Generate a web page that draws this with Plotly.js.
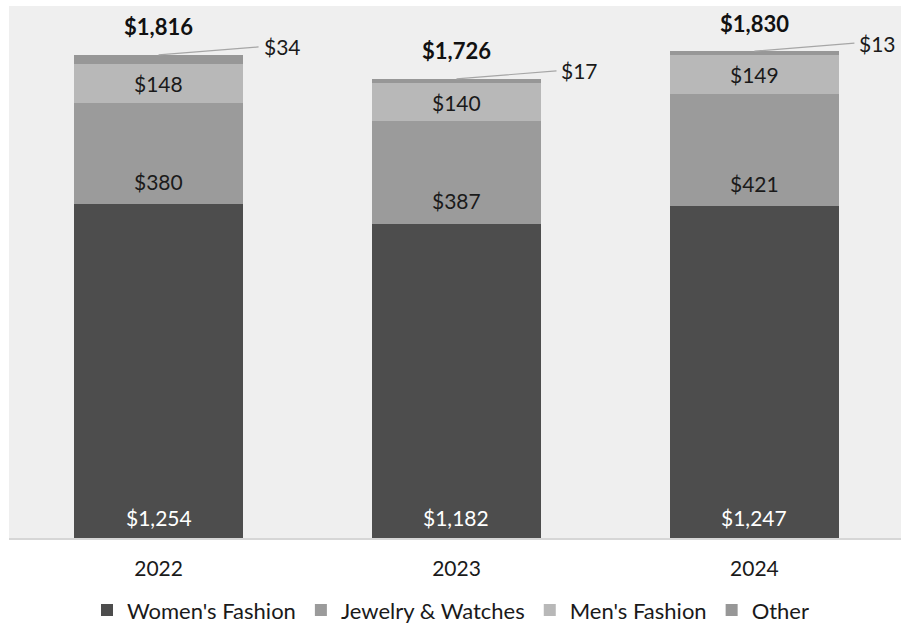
<!DOCTYPE html>
<html>
<head>
<meta charset="utf-8">
<script src="https://cdn.plot.ly/plotly-3.0.1.min.js"></script>
<style>html,body{margin:0;padding:0;background:#fff;}#chart{width:901px;height:624px;}</style>
</head>
<body>
<div id="chart"></div>
<script>
const years = ['2022', '2023', '2024'];
const womens = [1254, 1182, 1247];
const jewelry = [380, 387, 421];
const mens = [148, 140, 149];
const other = [34, 17, 13];
const totals = [1816, 1726, 1830];
const seriesNames = ["Women's Fashion", 'Jewelry & Watches', "Men's Fashion", 'Other'];

const FONT = 'Lato, "Open Sans", sans-serif';
const fmt = v => '$' + String(v).replace(/\B(?=(\d{3})+(?!\d))/g, ',');
const colors = ['#4d4d4d', '#9b9b9b', '#b8b8b8', '#979797'];
const series = [womens, jewelry, mens, other];

const traces = series.map((vals, i) => ({
  type: 'bar',
  name: seriesNames[i],
  x: years,
  y: vals,
  width: 0.57,
  marker: {color: colors[i], line: {width: 0}},
  hoverinfo: 'skip'
}));

const annotations = [];
years.forEach((yr, k) => {
  const base1 = womens[k];
  const base2 = womens[k] + jewelry[k];
  const top = base2 + mens[k] + other[k];
  annotations.push({xref: 'x', yref: 'y', x: k, y: 0, text: fmt(womens[k]), showarrow: false,
    yshift: 21, font: {family: FONT, size: 21, color: '#ffffff'}});
  annotations.push({xref: 'x', yref: 'y', x: k, y: base1, text: fmt(jewelry[k]), showarrow: false,
    yshift: 23, font: {family: FONT, size: 21, color: '#1a1a1a'}});
  annotations.push({xref: 'x', yref: 'y', x: k, y: base2 + mens[k] / 2, text: fmt(mens[k]), showarrow: false,
    font: {family: FONT, size: 21, color: '#1a1a1a'}});
  annotations.push({xref: 'x', yref: 'y', x: k, y: top, text: fmt(other[k]),
    showarrow: true, axref: 'pixel', ayref: 'pixel', ax: 100, ay: -8, xanchor: 'left',
    arrowhead: 0, arrowwidth: 1.2, arrowcolor: '#a6a6a6', standoff: 0, borderpad: 4,
    font: {family: FONT, size: 21, color: '#1a1a1a'}});
  annotations.push({xref: 'x', yref: 'y', x: k, y: totals[k], text: '<b>' + fmt(totals[k]) + '</b>', showarrow: false,
    yshift: 28, font: {family: FONT, size: 22, color: '#111111'}});
});

const layout = {
  width: 901, height: 624,
  margin: {l: 9, r: 0, t: 6, b: 86, pad: 0, autoexpand: false},
  paper_bgcolor: '#ffffff',
  plot_bgcolor: '#efefef',
  barmode: 'stack',
  showlegend: true,
  legend: {orientation: 'h', x: 0.5, xanchor: 'center', xref: 'container', yref: 'container',
    y: 0.022, yanchor: 'middle',
    font: {family: FONT, size: 22, color: '#1a1a1a'}, traceorder: 'normal'},
  xaxis: {type: 'category', range: [-0.502, 2.492], showgrid: false, zeroline: false,
    showline: true, linecolor: '#d6d6d6', linewidth: 1.5, ticks: '',
    tickfont: {family: FONT, size: 21, color: '#1a1a1a'}, ticklabelstandoff: 11, fixedrange: true},
  yaxis: {range: [0, 2000], visible: false, showgrid: false, zeroline: false, fixedrange: true},
  annotations: annotations
};

Plotly.newPlot('chart', traces, layout, {displayModeBar: false, staticPlot: true});
</script>
</body>
</html>
